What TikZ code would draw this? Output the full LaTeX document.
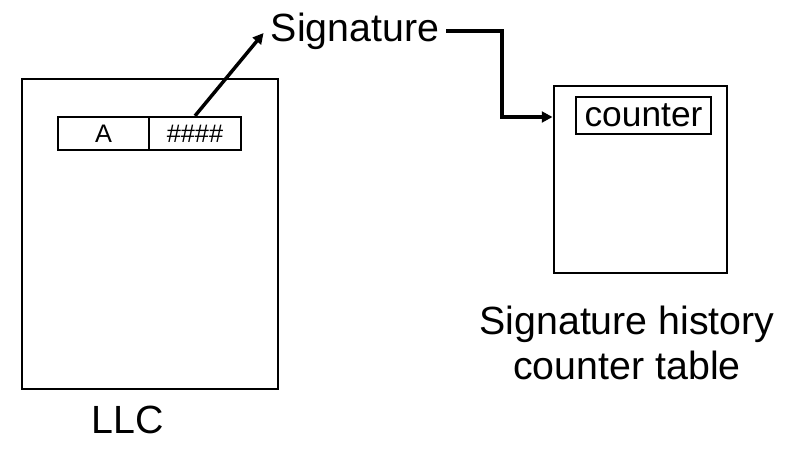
\documentclass[tikz,border=0pt]{standalone}
\usepackage{fontspec}
\setmainfont{Liberation Sans}
\usetikzlibrary{arrows.meta}

\begin{document}
\begin{tikzpicture}[
	x=0.75pt, y=-0.75pt,
	table/.style={
		rectangle,
		draw=black,
		line width=2.2pt,
		inner sep=0pt
	},
	cell/.style={
		rectangle,
		draw=black,
		line width=1.7pt,
		inner sep=0pt,
		minimum height=24.75pt,
		font=\fontsize{19}{22}\selectfont
	},
	label/.style={
		align=center,
		inner sep=0pt,
		font=\fontsize{29.5}{33.75}\selectfont
	},
	link/.style={
		line width=2.6pt,
		-{Triangle[length=8pt,width=8pt]}
	}
]

\useasboundingbox (0,0) rectangle (799,457);

% LLC with one entry
\node[table, minimum width=192pt, minimum height=232.5pt] (llc) at (150,234) {};
\node[cell, minimum width=68.25pt] (tag) at (103.5,133.5) {A};
\node[cell, minimum width=69pt] (hash) at (195,133.5) {\#\#\#\#};
\node[label] (llc_lbl) at (128,420) {LLC};

% signature
\node[label, inner sep=5.25pt] (sig) at (355,31) {Signature};

% signature history counter table
\node[table, minimum width=129.75pt, minimum height=140.25pt] (shct) at (640.5,179.5) {};
\node[cell, minimum width=101.25pt, minimum height=27.75pt,
	font=\fontsize{26.5}{29}\selectfont] (ctr) at (643.5,115.5) {counter};
\node[label] (shct_lbl) at (627,343) {Signature history\\counter table};

\coordinate (turn) at (502,117);

\draw[link] (hash.north) -- ([yshift=-1.5pt]sig.west);
\draw[link] (sig.east) -| (turn) -- (turn -| shct.west);

\end{tikzpicture}
\end{document}
